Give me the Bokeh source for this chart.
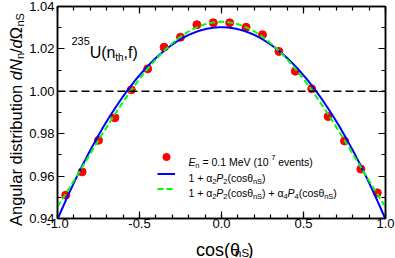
import numpy as np
from bokeh.plotting import figure
from bokeh.layouts import row, column
from bokeh.models import (LinearAxis, FixedTicker, PrintfTickFormatter, CustomJSTickFormatter,
                          Label, Span, Legend, LegendItem, Range1d, ColumnDataSource)
from bokeh.embed import file_html
from bokeh.resources import INLINE

# ---------------- data ----------------
cos_theta = [-0.95, -0.85, -0.75, -0.65, -0.55, -0.45, -0.35, -0.25, -0.15, -0.05,
             0.05, 0.15, 0.25, 0.35, 0.45, 0.55, 0.65, 0.75, 0.85, 0.95]
dist = [0.9510, 0.9620, 0.9769, 0.9875, 1.0007, 1.0106, 1.0208, 1.0255, 1.0314, 1.0323,
        1.0323, 1.0302, 1.0267, 1.0188, 1.0095, 1.0012, 0.9881, 0.9766, 0.9633, 0.9521]
# fit coefficients (Legendre expansion)
fit2_a2 = -0.0604
fit4_a2 = -0.0608
fit4_a4 = 0.0063

x_ticks = [-1.0, -0.5, 0.0, 0.5, 1.0]
y_ticks = [0.94, 0.96, 0.98, 1.00, 1.02, 1.04]

FONT = "Liberation Sans"

# page geometry
TOTAL_W, TOTAL_H = 395, 258
LEFT_W = 26          # strip holding the y-axis title
MAIN_H = 233         # main plot height; strip below holds the x-axis title
FL, FR, FT, FB = 55.0, 385.0, 6.0, 218.0  # frame edges in page pixels

# ---------------- main figure ----------------
p = figure(width=TOTAL_W - LEFT_W, height=MAIN_H, x_range=Range1d(-1, 1),
           y_range=Range1d(0.94, 1.04), output_backend="svg", toolbar_location=None,
           min_border_left=int(FL - LEFT_W), min_border_right=int(TOTAL_W - FR),
           min_border_top=int(FT), min_border_bottom=int(MAIN_H - FB))
p.xgrid.visible = False
p.ygrid.visible = False
p.outline_line_color = "black"
p.outline_line_width = 1.5

xminor = [round(-1 + 0.1 * i, 2) for i in range(21)]
yminor = [round(0.94 + 0.01 * i, 2) for i in range(11)]
xt = FixedTicker(ticks=x_ticks, minor_ticks=xminor)
yt = FixedTicker(ticks=y_ticks, minor_ticks=yminor)


def style_axis(ax, show_labels, standoff):
    ax.major_tick_in = 7
    ax.major_tick_out = 0
    ax.minor_tick_in = 4
    ax.minor_tick_out = 0
    ax.axis_line_width = 1.5
    ax.axis_line_color = "black"
    ax.major_tick_line_color = "black"
    ax.minor_tick_line_color = "black"
    ax.major_tick_line_width = 1.2
    ax.minor_tick_line_width = 1.2
    ax.major_label_text_font = FONT
    ax.major_label_text_font_size = "13px"
    ax.major_label_text_color = "black"
    ax.major_label_standoff = standoff
    if not show_labels:
        ax.formatter = CustomJSTickFormatter(code="return ''")
        ax.major_label_standoff = 0


p.xaxis.ticker = xt
p.yaxis.ticker = yt
p.xaxis.formatter = PrintfTickFormatter(format="%.1f")
p.yaxis.formatter = PrintfTickFormatter(format="%.2f")
style_axis(p.xaxis[0], True, 0)
style_axis(p.yaxis[0], True, 3)

ax_top = LinearAxis(ticker=xt)
style_axis(ax_top, False, 0)
p.add_layout(ax_top, "above")
ax_right = LinearAxis(ticker=yt)
style_axis(ax_right, False, 0)
p.add_layout(ax_right, "right")

p.add_layout(Span(location=1.0, dimension="width", line_color="black", line_width=1.5,
                  line_dash="8 4"))

xs = np.linspace(-1, 1, 201)
P2 = (3 * xs ** 2 - 1) / 2
P4 = (35 * xs ** 4 - 30 * xs ** 2 + 3) / 8
src_pts = ColumnDataSource(dict(x=cos_theta, y=dist))
src_f = ColumnDataSource(dict(x=xs, f2=1 + fit2_a2 * P2, f4=1 + fit4_a2 * P2 + fit4_a4 * P4))

r_pts = p.scatter("x", "y", source=src_pts, size=8, fill_color="#ff0000", line_color="#ff0000")
r_f2 = p.line("x", "f2", source=src_f, line_color="#0000ff", line_width=2)
r_f4 = p.line("x", "f4", source=src_f, line_color="#00ff00", line_width=2, line_dash="6 3")


# ---------------- text helpers ----------------
def main_x(px):
    return -1 + (px - FL) * 2.0 / (FR - FL)


def main_y(py):
    return 1.04 - (py - FT) * 0.1 / (FB - FT)


W = {' ': 278, '(': 333, ')': 333, '+': 584, ',': 278, '.': 278, '/': 278, '=': 584,
     'A': 667, 'E': 667, 'M': 833, 'N': 722, 'P': 667, 'S': 667, 'U': 722, 'V': 667,
     'a': 556, 'b': 556, 'c': 500, 'd': 556, 'e': 556, 'f': 278, 'g': 556, 'h': 556,
     'i': 222, 'l': 222, 'n': 556, 'o': 556, 'r': 333, 's': 500, 't': 278, 'u': 556,
     'v': 500, 'α': 578, 'θ': 556, 'Ω': 768}


def tw(s, size):
    return sum(W.get(c, 556) for c in s) * size / 1000.0


def runs(fig, fx, fy, parts, x0, y0, vertical=False):
    pos = 0.0
    for text, size, style, dy in parts:
        lead = len(text) - len(text.lstrip(' '))
        shown = text.strip(' ')
        off = pos + tw(' ' * lead, size)
        if shown:
            if vertical:
                lx, ly, ang = x0 + dy, y0 - off, np.pi / 2
            else:
                lx, ly, ang = x0 + off, y0 + dy, 0
            fig.add_layout(Label(x=fx(lx), y=fy(ly), text=shown, angle=ang,
                                 text_font=FONT, text_font_size=f"{size}px",
                                 text_font_style=style, text_color="black",
                                 text_align="left", text_baseline="alphabetic"))
        pos += tw(text, size)


# reaction annotation
runs(p, main_x, main_y,
     [("235", 11, "normal", -11), ("U(n", 16, "normal", 0), ("th", 10, "normal", 5),
      (",f)", 16, "normal", 0)], 69, 51.7)

# legend texts
LS, SS = 10.5, 7.5
runs(p, main_x, main_y,
     [("E", LS, "italic", 0), ("n", SS, "normal", 3), (" = 0.1 MeV  (10", LS, "normal", 0),
      ("7", SS, "normal", -5), (" events)", LS, "normal", 0)], 186.7, 161.7)
row2 = [("1 + α", LS, "normal", 0), ("2", SS, "normal", 3), ("P", LS, "italic", 0),
        ("2", SS, "normal", 3), ("(cosθ", LS, "normal", 0), ("nS", SS, "normal", 3),
        (")", LS, "normal", 0)]
runs(p, main_x, main_y, row2, 186.7, 177.5)
row3 = row2 + [(" + α", LS, "normal", 0), ("4", SS, "normal", 3), ("P", LS, "italic", 0),
               ("4", SS, "normal", 3), ("(cosθ", LS, "normal", 0), ("nS", SS, "normal", 3),
               (")", LS, "normal", 0)]
runs(p, main_x, main_y, row3, 186.7, 192.7)

# legend glyph samples
for r, cy, gh in [(r_pts, 157, 19), (r_f2, 173.5, 15), (r_f4, 188.5, 15)]:
    leg = Legend(items=[LegendItem(label=" ", renderers=[r])],
                 location=(int(round(154.5 - FL)), int(round(FB - (cy + gh / 2)))),
                 glyph_width=18, glyph_height=gh, padding=0, margin=0, spacing=0,
                 border_line_alpha=0, background_fill_alpha=0,
                 label_text_font_size="1px", label_standoff=0, label_width=0, label_height=0)
    p.add_layout(leg)


# ---------------- title strips (page-pixel coordinates) ----------------
def strip(w, h, x0, y0):
    f = figure(width=w, height=h, x_range=Range1d(x0, x0 + w), y_range=Range1d(y0 + h, y0),
               output_backend="svg", toolbar_location=None, min_border=0,
               x_axis_location=None, y_axis_location=None)
    f.outline_line_color = None
    f.xgrid.visible = False
    f.ygrid.visible = False
    return f


ident = lambda v: v
left = strip(LEFT_W, TOTAL_H, 0, 0)
runs(left, ident, ident,
     [("Angular distribution ", 16.5, "normal", 0), ("dN", 16.5, "italic", 0),
      ("n", 11, "normal", 4), ("/", 16.5, "normal", 0), ("d", 16.5, "italic", 0),
      ("Ω", 16.5, "normal", 0), ("nS", 11, "normal", 4)], 15.5, 225.5, vertical=True)

# the strip under the plot shows its content about 11 px right of its nominal
# coordinates in this nested layout, so the title start is set 11 px left
bottom = strip(TOTAL_W - LEFT_W, TOTAL_H - MAIN_H, LEFT_W, MAIN_H)
runs(bottom, ident, ident,
     [("cos(θ", 18, "normal", 0), ("nS", 11.5, "normal", 3), (")", 18, "normal", 0)], 181.7, 249)

layout = row(left, column(p, bottom))
open("out.html", "w").write(file_html(layout, INLINE))
